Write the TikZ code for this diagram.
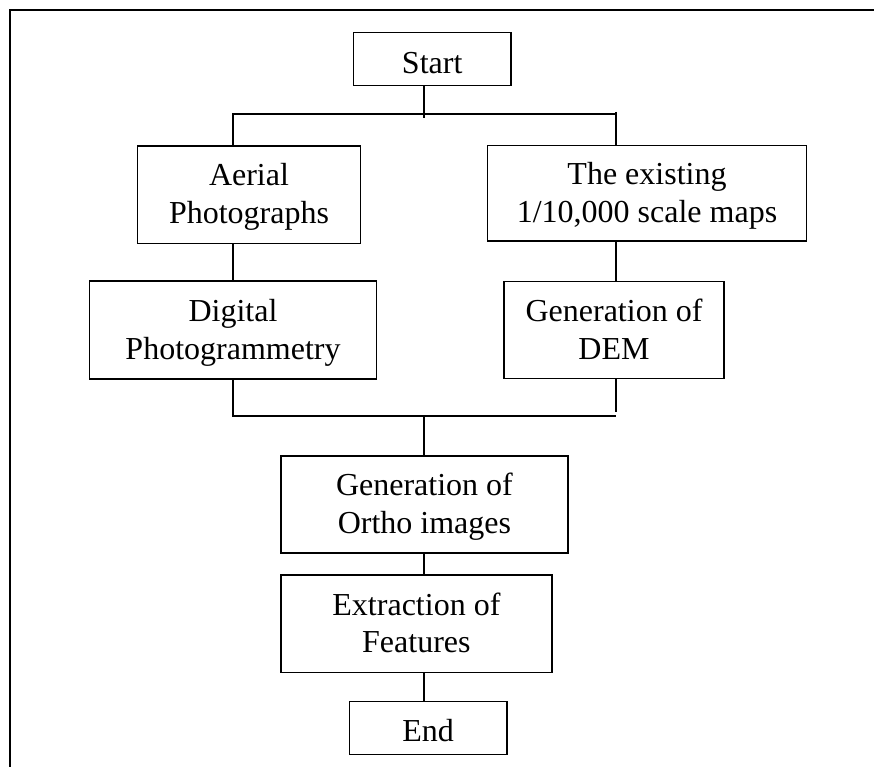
\documentclass[tikz,border=0pt]{standalone}
\usepackage{fontspec}
\setmainfont{Liberation Serif}
\begin{document}
\begin{tikzpicture}[x=1pt,y=-1pt,
  box/.style={draw, line width=1.5pt, rectangle, inner sep=0pt},
  txt/.style={inner sep=0pt, align=center, anchor=base, font=\fontsize{32}{37.6}\selectfont},
  link/.style={line width=1.4pt},
  frame/.style={line width=1.9pt}]
\useasboundingbox (0,0) rectangle (874,767);

% outer frame (left and top edges)
\draw[frame] (10,767) -- (10,9.7) -- (874,9.7);

% process boxes, each caption set on its last baseline
\node[box, minimum width=157.7pt, minimum height=53pt] (start) at (432.2,59.2) {};
\node[txt] (start-t) at (432.2,73.3) {Start};

\node[box, minimum width=223.4pt, minimum height=97.3pt] (aerial) at (249,194.7) {};
\node[txt] (aerial-t) at (249,223.3) {Aerial\\Photographs};

\node[box, minimum width=318.6pt, minimum height=95.3pt] (exist) at (647,193.4) {};
\node[txt] (exist-t) at (647,222.6) {The existing\\1/10,000 scale maps};

\node[box, minimum width=287.4pt, minimum height=97.7pt] (digital) at (233,329.9) {};
\node[txt] (digital-t) at (233,359.3) {Digital\\Photogrammetry};

\node[box, minimum width=220pt, minimum height=97pt] (dem) at (614,330) {};
\node[txt] (dem-t) at (614,359.3) {Generation of\\DEM};

\node[box, minimum width=286.7pt, minimum height=96.7pt] (ortho) at (424.4,504.4) {};
\node[txt] (ortho-t) at (424.4,533.4) {Generation of\\Ortho images};

\node[box, minimum width=271.3pt, minimum height=97.3pt] (extract) at (416.4,623.7) {};
\node[txt] (extract-t) at (416.4,652.6) {Extraction of\\Features};

\node[box, minimum width=157.7pt, minimum height=52.6pt] (end) at (428.2,728) {};
\node[txt] (end-t) at (428.2,741.7) {End};

% branch points
\coordinate (topL) at (233,114);
\coordinate (topC) at (424,114);
\coordinate (topR) at (616,114);
\coordinate (botL) at (233,416);
\coordinate (botC) at (424,416);
\coordinate (botR) at (616,416);

% split after Start
\draw[link] (start.south -| topC) -- ++(0,32);
\draw[link] (aerial.north -| topL) -- (topL) -- (topR);
\draw[link] (topR) ++(0,-2) -- (exist.north -| topR);

% two branches
\draw[link] (aerial.south -| topL) -- (digital.north -| topL);
\draw[link] (exist.south -| topR) -- (dem.north -| topR);

% merge
\draw[link] (digital.south -| botL) -- (botL) -- (botR);
\draw[link] (dem.south -| botR) -- ++(0,33);
\draw[link] (botC) -- (ortho.north -| botC);

% final chain
\draw[link] (ortho.south -| botC) -- (extract.north -| botC);
\draw[link] (extract.south -| botC) -- (end.north -| botC);
\end{tikzpicture}
\end{document}
